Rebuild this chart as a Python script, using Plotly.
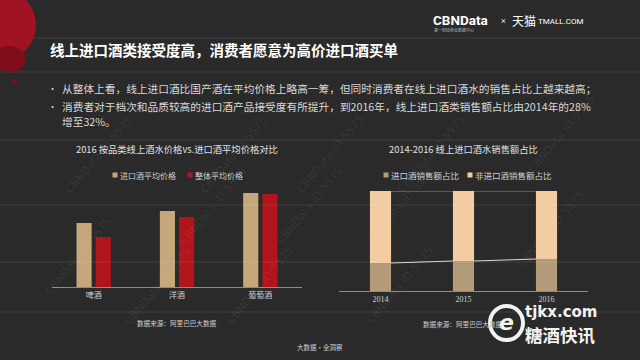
import plotly.graph_objects as go

# ---------------- data ----------------
price_categories = ["啤酒", "洋酒", "葡萄酒"]
imported_avg_price = [64, 76, 94]      # relative bar heights (no axis shown)
overall_avg_price = [50, 70, 93]

years = ["2014", "2015", "2016"]
imported_share = [28, 30, 32]          # %
non_imported_share = [72, 70, 68]      # %

W, H = 640, 360
CJK = "Noto Sans CJK SC"

def px(x):
    return x / W

def py(y):
    return 1 - y / H

C_IMP = "#c6a77c"
C_ALL = "#b2141c"
C_IMP2 = "#b39a78"
C_NON = "#f3cca2"

fig = go.Figure()

# left chart (grouped bars)
fig.add_trace(go.Bar(x=price_categories, y=imported_avg_price, name="进口酒平均价格",
                     marker=dict(color=C_IMP, line=dict(width=0)), xaxis="x", yaxis="y"))
fig.add_trace(go.Bar(x=price_categories, y=overall_avg_price, name="整体平均价格",
                     marker=dict(color=C_ALL, line=dict(width=0)), xaxis="x", yaxis="y"))

# right chart (stacked 100% bars, built with base)
bw = 21 / 82.5
fig.add_trace(go.Bar(x=years, y=imported_share, name="进口酒销售额占比",
                     marker=dict(color=C_IMP2, line=dict(width=0)),
                     offsetgroup="r", width=bw, offset=-bw / 2, xaxis="x2", yaxis="y2"))
fig.add_trace(go.Bar(x=years, y=non_imported_share, base=imported_share, name="非进口酒销售额占比",
                     marker=dict(color=C_NON, line=dict(width=0)),
                     offsetgroup="r", width=bw, offset=-bw / 2, xaxis="x2", yaxis="y2"))

shapes = []
# subtle wood-plank seams
for sy in [38, 72, 140, 205, 262, 312]:
    shapes.append(dict(type="line", xref="paper", yref="paper", x0=0, x1=1,
                       y0=py(sy), y1=py(sy), line=dict(color="rgba(255,255,255,0.05)", width=2)))

# series lines between stacked bars
tops = [a + b for a, b in zip(imported_share, non_imported_share)]
for i in range(len(years) - 1):
    shapes.append(dict(type="line", xref="x2", yref="y2",
                       x0=i + bw / 2, x1=i + 1 - bw / 2, y0=tops[i], y1=tops[i + 1],
                       line=dict(color="#8a8a8a", width=1)))
    shapes.append(dict(type="line", xref="x2", yref="y2",
                       x0=i + bw / 2, x1=i + 1 - bw / 2, y0=imported_share[i], y1=imported_share[i + 1],
                       line=dict(color="#d8d8d8", width=1)))

# decorative red wine splash (top-left)
shapes.append(dict(type="circle", xref="paper", yref="paper",
                   x0=px(-22), x1=px(36), y0=py(58), y1=py(-8),
                   fillcolor="#a01322", line=dict(width=0)))
shapes.append(dict(type="circle", xref="paper", yref="paper",
                   x0=px(-8), x1=px(26), y0=py(72), y1=py(46),
                   fillcolor="#800e1a", line=dict(width=0)))
shapes.append(dict(type="circle", xref="paper", yref="paper",
                   x0=px(12), x1=px(17), y0=py(84), y1=py(79),
                   fillcolor="#7a0e18", line=dict(width=0)))

# legend swatches
def swatch(cx, cy, color, s=5):
    shapes.append(dict(type="rect", xref="paper", yref="paper",
                       x0=px(cx - s / 2), x1=px(cx + s / 2), y0=py(cy + s / 2), y1=py(cy - s / 2),
                       fillcolor=color, line=dict(width=0)))

swatch(115, 175, C_IMP)
swatch(190, 175, C_ALL)
swatch(386, 175, C_IMP2)
swatch(470, 175, C_NON)

# tjkx watermark logo ring
shapes.append(dict(type="circle", xref="paper", yref="paper",
                   x0=px(490), x1=px(523), y0=py(340), y1=py(306),
                   line=dict(color="#f2f2f2", width=4)))

annotations = []

def text(x, y, s, size, color="#d9d9d9", anchor="left", family=CJK, **kw):
    annotations.append(dict(x=px(x), y=py(y), xref="paper", yref="paper", text=s,
                            showarrow=False, xanchor=anchor, yanchor="middle",
                            font=dict(family=family, size=size, color=color), **kw))

# header
text(431, 20, "<b>CBNData</b>", 13.5, "#ffffff", family="Roboto")
text(432, 30, "第一财经商业数据中心", 4, "#bbbbbb")
text(499, 21, "×", 9, "#dddddd", family="Roboto")
text(510, 20, "天猫", 12, "#ffffff")
text(536, 21, "TMALL.COM", 8, "#ffffff", family="Roboto")

text(48, 50, "<b>线上进口酒类接受度高，消费者愿意为高价进口酒买单</b>", 14.5, "#ffffff")

text(52, 88, "•", 9, "#d9d9d9", anchor="center")
text(60, 88, "从整体上看，线上进口酒比国产酒在平均价格上略高一筹，但同时消费者在线上进口酒水的销售占比上越来越高；", 10.7)
text(52, 106, "•", 9, "#d9d9d9", anchor="center")
text(60, 106, "消费者对于档次和品质较高的进口酒产品接受度有所提升，到2016年，线上进口酒类销售额占比由2014年的28%", 10.7)
text(60, 121, "增至32%。", 10.7)

# chart titles
text(177, 149, "2016 按品类线上酒水价格vs.进口酒平均价格对比", 9.3, "#e0e0e0", anchor="center")
text(463, 149, "2014-2016 线上进口酒水销售额占比", 9.3, "#e0e0e0", anchor="center")

# legends
text(118, 175, "进口酒平均价格", 8, "#d0d0d0")
text(193, 175, "整体平均价格", 8, "#d0d0d0")
text(389, 175, "进口酒销售额占比", 8.5, "#d0d0d0")
text(473, 175, "非进口酒销售额占比", 8.5, "#d0d0d0")

# sources
text(177, 323, "数据来源：阿里巴巴大数据", 6.6, "#cfcfcf", anchor="center")
text(463, 324, "数据来源：阿里巴巴大数据", 6.6, "#cfcfcf", anchor="center")
text(320, 347, "大数据·全洞察", 6.5, "#cfcfcf", anchor="center")

# tjkx watermark
text(506, 322, "<b><i>e</i></b>", 22, "#f2f2f2", anchor="center", family="DejaVu Sans")
text(523, 312, "<b>tjkx.com</b>", 15, "#f2f2f2", family="DejaVu Sans")
text(523, 334, "<b>糖酒快讯</b>", 17.5, "#f2f2f2")

# faint diagonal watermarks
for (wx, wy) in [(60, 110), (195, 110), (330, 110), (470, 110), (600, 90),
                 (40, 300), (175, 250), (310, 250), (440, 250), (590, 230),
                 (120, 330), (260, 330), (400, 330)]:
    annotations.append(dict(x=px(wx), y=py(wy), xref="paper", yref="paper",
                            text="CBNData ID:5575", showarrow=False, textangle=-50,
                            font=dict(family="DejaVu Sans", size=11, color="rgba(255,255,255,0.07)")))

fig.update_layout(
    width=W, height=H,
    margin=dict(l=0, r=0, t=0, b=0),
    paper_bgcolor="#2a2a2a",
    plot_bgcolor="rgba(0,0,0,0)",
    showlegend=False,
    hovermode=False,
    barmode="group",
    bargap=0.54,
    bargroupgap=0.21,
    shapes=shapes,
    annotations=annotations,
    xaxis=dict(domain=[px(52), px(302)], anchor="y", showline=True, linecolor="#8c8c8c",
               linewidth=1, showgrid=False, zeroline=False, ticks="",
               tickfont=dict(family=CJK, size=8, color="#d0d0d0")),
    yaxis=dict(domain=[py(287), py(187)], range=[0, 100], visible=False, showgrid=False),
    xaxis2=dict(domain=[px(339), px(588)], anchor="y2", showline=True, linecolor="#8c8c8c",
                linewidth=1, showgrid=False, zeroline=False, ticks="",
                tickfont=dict(family="Liberation Serif", size=8, color="#d0d0d0")),
    yaxis2=dict(domain=[py(291), py(191)], range=[0, 100], visible=False, showgrid=False),
)

fig.write_html("out.html", config={"displayModeBar": False},
               post_script="document.body.style.margin='0';document.body.style.background='#2a2a2a';")
